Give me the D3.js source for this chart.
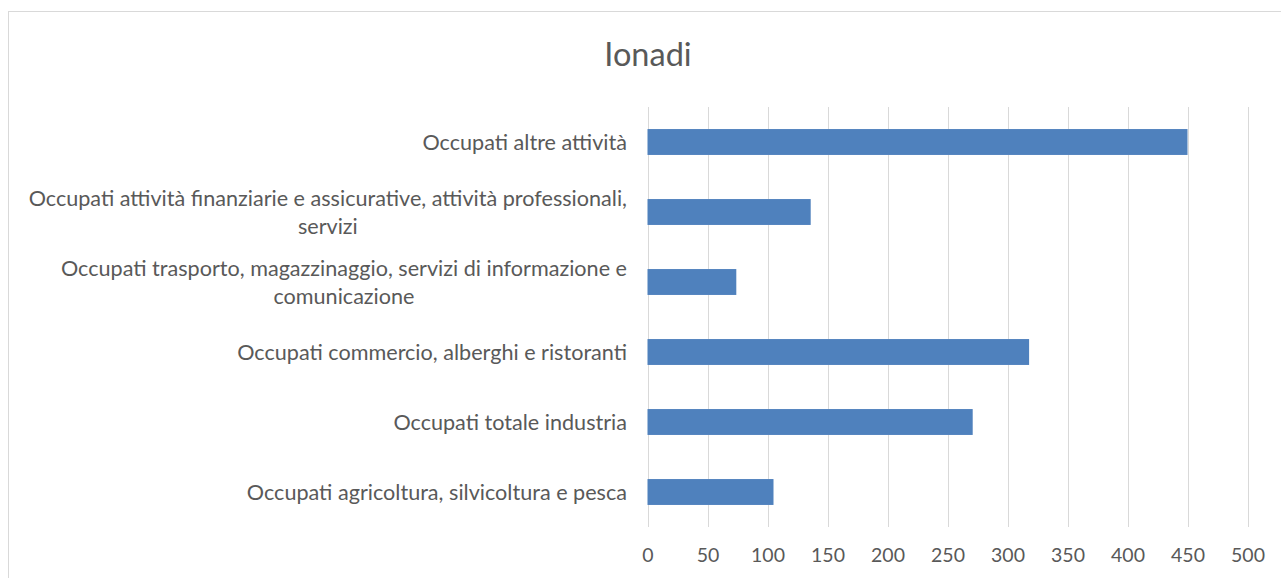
<!DOCTYPE html>
<html>
<head>
<meta charset="utf-8">
<script src="https://cdn.jsdelivr.net/npm/d3@7"></script>
<style>
  body { margin: 0; background: #fff; }
  text { font-family: Lato, "Open Sans", sans-serif; fill: #595959; }
</style>
</head>
<body>
<svg id="chart"></svg>
<script>
/* chart data, top category first */
const categories = [
  "Occupati altre attività",
  "Occupati attività finanziarie e assicurative, attività professionali,\nservizi",
  "Occupati trasporto, magazzinaggio, servizi di informazione e\ncomunicazione",
  "Occupati commercio, alberghi e ristoranti",
  "Occupati totale industria",
  "Occupati agricoltura, silvicoltura e pesca"
];
const values = [450, 136, 74, 318, 271, 105];
const xTicks = [0, 50, 100, 150, 200, 250, 300, 350, 400, 450, 500];
const title = "Ionadi";

/* size and margins */
const width = 1281, height = 578;
const margin = {left: 647.5, right: 33.5, top: 107, bottom: 51};

const svg = d3.select("#chart")
  .attr("width", width)
  .attr("height", height);

/* outer chart border */
svg.append("rect")
  .attr("x", 8.5).attr("y", 11.5)
  .attr("width", width).attr("height", height)
  .attr("fill", "none")
  .attr("stroke", "#d9d9d9");

const x = d3.scaleLinear()
  .domain([0, 500])
  .range([margin.left, width - margin.right]);

const y = d3.scaleBand()
  .domain(categories)
  .range([margin.top, height - margin.bottom])
  .paddingInner(0.63)
  .paddingOuter(0.315);

/* vertical gridlines */
svg.append("g")
  .selectAll("line")
  .data(xTicks)
  .join("line")
  .attr("x1", d => Math.round(x(d)) + 0.5)
  .attr("x2", d => Math.round(x(d)) + 0.5)
  .attr("y1", margin.top)
  .attr("y2", height - margin.bottom)
  .attr("stroke", "#d9d9d9");

/* bars */
svg.append("g")
  .selectAll("rect")
  .data(values)
  .join("rect")
  .attr("x", x(0))
  .attr("y", (d, i) => y(categories[i]))
  .attr("width", d => x(d) - x(0))
  .attr("height", y.bandwidth())
  .attr("fill", "#4f81bd");

/* x tick labels */
const xAxis = d3.axisBottom(x).tickValues(xTicks).tickSize(0).tickPadding(21);
const gx = svg.append("g")
  .attr("transform", "translate(0," + (height - margin.bottom) + ")")
  .call(xAxis);
gx.select(".domain").remove();
gx.selectAll("text")
  .style("font-size", "19.5px")
  .style("font-family", "Lato, 'Open Sans', sans-serif")
  .attr("fill", "#595959");

/* category labels: block right-aligned, lines centred in the block */
const labelRight = 627;
const lineHeight = 28;
const labels = svg.append("g").style("font-size", "21.6px");
categories.forEach(function(c){
  const lines = c.split("\n");
  const cy = y(c) + y.bandwidth() / 2;
  const g = labels.append("g");
  const t = g.append("text").attr("text-anchor", "middle");
  lines.forEach(function(l, i){
    t.append("tspan")
      .attr("x", 0)
      .attr("y", cy + (i - (lines.length - 1) / 2) * lineHeight)
      .attr("dy", "0.35em")
      .text(l);
  });
  const w = t.node().getBBox().width;
  t.attr("transform", "translate(" + (labelRight - w / 2) + ",0)");
});

/* title */
svg.append("text")
  .attr("x", 648)
  .attr("y", 55)
  .attr("dy", "0.35em")
  .attr("text-anchor", "middle")
  .style("font-size", "32.5px")
  .text(title);
</script>
</body>
</html>
